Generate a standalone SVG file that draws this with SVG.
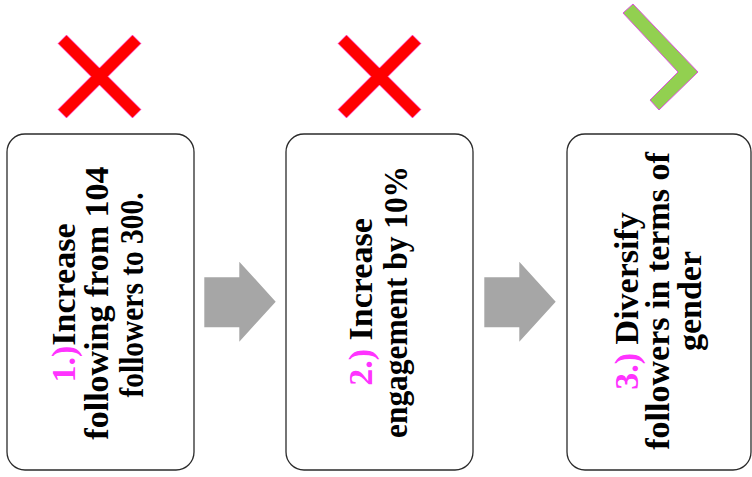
<svg xmlns="http://www.w3.org/2000/svg" width="752" height="477" viewBox="0 0 752 477">
<style>
.box{fill:#fff;stroke:#2b2b2b;stroke-width:1.3}
.t{font-family:"Liberation Serif","Times New Roman",serif;font-weight:bold;font-size:34px;fill:#000;text-anchor:middle}
.m{fill:#ff33ff}
.arrow{fill:#a6a6a6}
.x{fill:#ff0000;stroke:#ff40ff;stroke-width:0.6}
.chev{fill:#92d050;stroke:#e050e0;stroke-width:1}
</style>
<defs>
<polygon id="xmark" class="x" points="-41.5,-33 -33,-41.5 0,-8.5 33,-41.5 41.5,-33 8.5,0 41.5,33 33,41.5 0,8.5 -33,41.5 -41.5,33 -8.5,0"/>
</defs>
<g id="connectors">
<polygon class="arrow" points="204.3,277.3 239.3,277.3 239.3,261.7 275.7,301.7 239.3,341.7 239.3,327.3 204.3,327.3"/>
<polygon class="arrow" points="484.3,277.3 519.3,277.3 519.3,261.7 555.7,301.7 519.3,341.7 519.3,327.3 484.3,327.3"/>
</g>
<g id="mark1"><use href="#xmark" x="99.5" y="76.5"/></g>
<g id="mark2"><use href="#xmark" x="379.5" y="76.5"/></g>
<g id="mark3"><polygon class="chev" points="623,13 633,4 698,72 659,110 650,100 678,72"/></g>
<g id="node1">
<rect class="box" x="7" y="134" width="187" height="336" rx="18"/>
<g transform="translate(0,303) rotate(-90)">
<text class="t" x="0" y="75"><tspan class="m">1.)</tspan>Increase</text>
<text class="t" x="0" y="108">following from 104</text>
<text class="t" x="8" y="143" textLength="205" lengthAdjust="spacingAndGlyphs">followers to 300.</text>
</g>
</g>
<g id="node2">
<rect class="box" x="286" y="134" width="187" height="336" rx="18"/>
<g transform="translate(0,302) rotate(-90)">
<text class="t" x="0" y="372"><tspan class="m">2.)</tspan> Increase</text>
<text class="t" x="0" y="407" textLength="272" lengthAdjust="spacingAndGlyphs">engagement by 10%</text>
</g>
</g>
<g id="node3">
<rect class="box" x="567" y="134" width="184" height="336" rx="18"/>
<g transform="translate(0,301) rotate(-90)">
<text class="t" x="0" y="638"><tspan class="m">3.)</tspan> Diversify</text>
<text class="t" x="0" y="669">followers in terms of</text>
<text class="t" x="0" y="701">gender</text>
</g>
</g>
</svg>
